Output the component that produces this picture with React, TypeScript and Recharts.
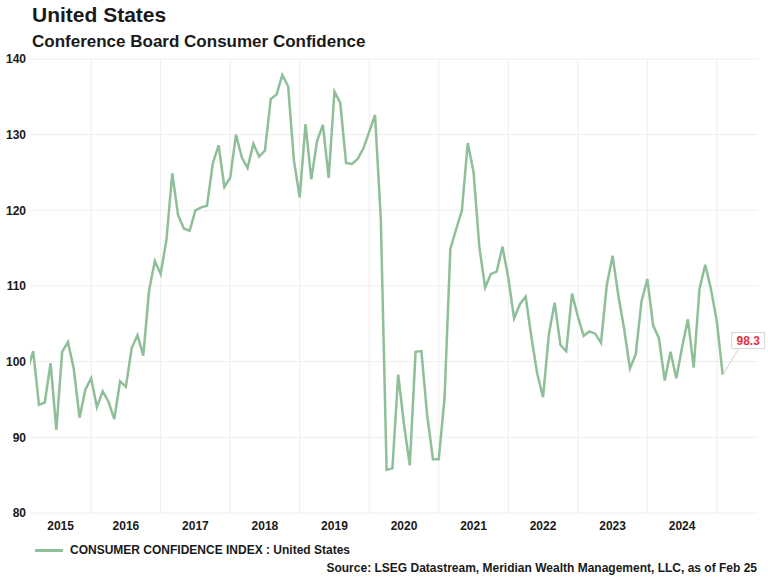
import React from 'react';
import { LineChart, Line, XAxis, YAxis, CartesianGrid, ReferenceLine, ReferenceDot } from 'recharts';

// Monthly index, Feb 2015 through Feb 2025
const START_YEAR = 2015;
const FIRST_MONTH = 1; // months after Jan 2015

const confidence = [
  98.8, 101.4, 94.3, 94.6, 99.8, 91.0, 101.3, 102.6, 99.1, 92.6, 96.3,
  97.8, 94.0, 96.1, 94.7, 92.4, 97.4, 96.7, 101.8, 103.5, 100.8, 109.4, 113.3,
  111.6, 116.1, 124.9, 119.4, 117.6, 117.3, 120.0, 120.4, 120.6, 126.2, 128.6, 123.1,
  124.3, 130.0, 127.0, 125.6, 128.8, 127.1, 127.9, 134.7, 135.3, 137.9, 136.4, 126.6,
  121.7, 131.4, 124.1, 129.2, 131.3, 124.3, 135.7, 134.2, 126.3, 126.1, 126.8, 128.2,
  130.4, 132.6, 118.8, 85.7, 85.9, 98.3, 91.7, 86.3, 101.3, 101.4, 92.9, 87.1,
  87.1, 95.2, 114.9, 117.5, 120.0, 128.9, 125.1, 115.2, 109.8, 111.6, 111.9, 115.2,
  111.1, 105.7, 107.6, 108.6, 103.2, 98.4, 95.3, 103.6, 107.8, 102.2, 101.4, 109.0,
  106.0, 103.4, 104.0, 103.7, 102.5, 110.1, 114.0, 108.7, 104.3, 99.1, 101.0, 108.0,
  110.9, 104.8, 103.1, 97.5, 101.3, 97.8, 101.9, 105.6, 99.2, 109.6, 112.8, 109.5,
  105.3, 98.3,
];

const yTicks = [80, 90, 100, 110, 120, 130, 140];
const years = [2015, 2016, 2017, 2018, 2019, 2020, 2021, 2022, 2023, 2024];

const X_DOMAIN: [number, number] = [1.45, 127.1];

const chartData = confidence.map((v, i) => ({ m: FIRST_MONTH + i, value: v }));
const last = chartData[chartData.length - 1];

// year boundaries for the vertical grid
const yearStarts = years.slice(1).map((y) => (y - START_YEAR) * 12).concat([(2025 - START_YEAR) * 12]);
// labels sit in the middle of each year (first one centred on its visible part)
const yearLabelPos = years.map((y, i) =>
  i === 0 ? (X_DOMAIN[0] + 12) / 2 : (y - START_YEAR) * 12 + 6
);

const LINE_COLOR = '#8fbf98';
const GRID_COLOR = '#eeeeee';
const FONT = '"Liberation Sans", Arial, Helvetica, sans-serif';

const LastValueTag = (props: any) => {
  const { cx, cy } = props;
  if (cx == null || cy == null) return null;
  const bx = cx + 9;
  const by = cy - 42;
  return (
    <g>
      <line x1={cx + 1} y1={cy - 1} x2={bx + 7} y2={by + 16} stroke="#cfcfcf" strokeWidth={1} />
      <rect x={bx} y={by} width={33} height={16} fill="#ffffff" stroke="#d6d6d6" strokeWidth={1} />
      <text x={bx + 16.5} y={by + 12.5} textAnchor="middle" fill="#e4323b" fontSize={12} fontWeight={700} fontFamily={FONT}>
        {last.value.toFixed(1)}
      </text>
    </g>
  );
};

export default function App() {
  return (
    <div style={{ position: 'absolute', left: 0, top: 0, width: 768, height: 577, background: '#fff', fontFamily: FONT, color: '#1a1a1a' }}>
      <div style={{ position: 'absolute', left: 32, top: 4, fontSize: 21, fontWeight: 700, lineHeight: '21px', whiteSpace: 'nowrap' }}>
        United States
      </div>
      <div style={{ position: 'absolute', left: 32, top: 33, fontSize: 17, fontWeight: 700, lineHeight: '17px', whiteSpace: 'nowrap' }}>
        Conference Board Consumer Confidence
      </div>

      <div style={{ position: 'absolute', left: 0, top: 0 }}>
        <LineChart width={768} height={577} data={chartData} margin={{ top: 59, right: 10, bottom: 40, left: 0 }}>
          <CartesianGrid vertical={false} stroke={GRID_COLOR} />
          {yearStarts.map((m) => (
            <ReferenceLine key={m} x={m} stroke={GRID_COLOR} strokeWidth={1} />
          ))}
          <XAxis
            dataKey="m"
            type="number"
            domain={X_DOMAIN}
            allowDataOverflow
            ticks={yearLabelPos}
            tickFormatter={(t: number) => String(START_YEAR + Math.floor(t / 12))}
            interval={0}
            axisLine={false}
            tickLine={false}
            tickSize={0}
            tickMargin={8}
            height={24}
            tick={{ fill: '#1a1a1a', fontSize: 12, fontWeight: 700, fontFamily: FONT }}
          />
          <YAxis
            domain={[80, 140]}
            ticks={yTicks}
            interval={0}
            axisLine={false}
            tickLine={false}
            tickSize={0}
            tickMargin={4}
            width={30}
            tick={{ fill: '#1a1a1a', fontSize: 12, fontWeight: 700, fontFamily: FONT }}
          />
          <Line
            type="linear"
            dataKey="value"
            stroke={LINE_COLOR}
            strokeWidth={2.5}
            dot={false}
            activeDot={false}
            isAnimationActive={false}
          />
          <ReferenceDot x={last.m} y={last.value} r={0} shape={LastValueTag} ifOverflow="visible" />
        </LineChart>
      </div>

      <div style={{ position: 'absolute', left: 35, top: 549, width: 28, height: 2.5, background: LINE_COLOR }} />
      <div style={{ position: 'absolute', left: 70, top: 544, fontSize: 12, fontWeight: 700, lineHeight: '12px', whiteSpace: 'nowrap' }}>
        CONSUMER CONFIDENCE INDEX : United States
      </div>
      <div style={{ position: 'absolute', right: 11, top: 562, fontSize: 12, fontWeight: 700, lineHeight: '12px', whiteSpace: 'nowrap' }}>
        Source: LSEG Datastream, Meridian Wealth Management, LLC, as of Feb 25
      </div>
    </div>
  );
}
